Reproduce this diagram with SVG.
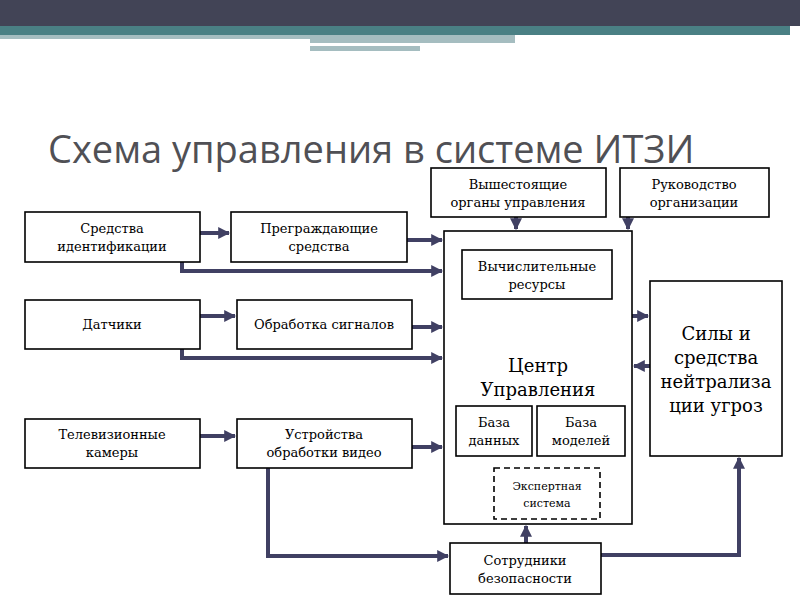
<svg xmlns="http://www.w3.org/2000/svg" width="800" height="600" viewBox="0 0 800 600">
<defs>
<style>
.b{fill:#fff;stroke:#000;stroke-width:1.6}
.d{fill:#fff;stroke:#000;stroke-width:1.6;stroke-dasharray:6 4}
.t{font-family:"DejaVu Serif","Liberation Serif",serif;font-size:13px;text-anchor:middle;fill:#000}
.L{font-size:18px}
.s{font-size:11px}
.c{fill:none;stroke:#404063;stroke-width:4}
</style>
<marker id="a" viewBox="0 0 10 10" refX="9" refY="5" markerWidth="3" markerHeight="3" orient="auto"><path d="M0,0L10,5L0,10z" fill="#404063"/></marker>
</defs>
<rect width="800" height="600" fill="#fff"/>
<rect x="0" y="0" width="800" height="26" fill="#424456"/>
<rect x="0" y="26" width="790" height="9" fill="#4a8084"/>
<rect x="0" y="35" width="310" height="4" fill="#a5bdc0"/>
<rect x="310" y="35" width="205" height="8" fill="#a5bdc0"/>
<rect x="310" y="43" width="175" height="2" fill="#fff"/>
<rect x="310" y="46" width="110" height="5" fill="#a5bdc0"/>
<text x="48" y="163" font-family="Open Sans,Liberation Sans,sans-serif" font-size="38" fill="#505055">Схема управления в системе ИТЗИ</text>
<g id="connectors">
<path class="c" d="M200,233H229" marker-end="url(#a)"/>
<path class="c" d="M407,240H442" marker-end="url(#a)"/>
<path class="c" d="M182,262V271H442" marker-end="url(#a)"/>
<path class="c" d="M200,316H235" marker-end="url(#a)"/>
<path class="c" d="M412,327H442" marker-end="url(#a)"/>
<path class="c" d="M182,349V358H442" marker-end="url(#a)"/>
<path class="c" d="M200,436H235" marker-end="url(#a)"/>
<path class="c" d="M412,447H442" marker-end="url(#a)"/>
<path class="c" d="M268,468V556H448" marker-end="url(#a)"/>
<path class="c" d="M516,217V229" marker-end="url(#a)"/>
<path class="c" d="M628,217V229" marker-end="url(#a)"/>
<path class="c" d="M632,316H648" marker-end="url(#a)"/>
<path class="c" d="M650,366H634" marker-end="url(#a)"/>
<path class="c" d="M526,543V526" marker-end="url(#a)"/>
<path class="c" d="M601,555H739V458" marker-end="url(#a)"/>
</g>
<g id="n1"><rect class="b" x="25" y="212" width="175" height="50"/><text class="t" x="112" y="233">Средства</text><text class="t" x="112" y="251">идентификации</text></g>
<g id="n2"><rect class="b" x="231" y="212" width="176" height="50"/><text class="t" x="319" y="233">Преграждающие</text><text class="t" x="319" y="251">средства</text></g>
<g id="n3"><rect class="b" x="25" y="300" width="175" height="49"/><text class="t" x="112" y="329">Датчики</text></g>
<g id="n4"><rect class="b" x="237" y="300" width="175" height="49"/><text class="t" x="324" y="329">Обработка сигналов</text></g>
<g id="n5"><rect class="b" x="25" y="419" width="175" height="49"/><text class="t" x="112" y="439">Телевизионные</text><text class="t" x="112" y="457">камеры</text></g>
<g id="n6"><rect class="b" x="237" y="419" width="175" height="49"/><text class="t" x="324" y="439">Устройства</text><text class="t" x="324" y="457">обработки видео</text></g>
<g id="n7"><rect class="b" x="431" y="168" width="175" height="49"/><text class="t" x="518" y="189">Вышестоящие</text><text class="t" x="518" y="207">органы управления</text></g>
<g id="n8"><rect class="b" x="620" y="168" width="149" height="49"/><text class="t" x="694" y="189">Руководство</text><text class="t" x="694" y="207">организации</text></g>
<g id="center"><rect class="b" x="444" y="231" width="188" height="293"/><text class="t L" x="538" y="372">Центр</text><text class="t L" x="538" y="396">Управления</text></g>
<g id="n9"><rect class="b" x="462" y="250" width="150" height="49"/><text class="t" x="537" y="271">Вычислительные</text><text class="t" x="537" y="289">ресурсы</text></g>
<g id="n10"><rect class="b" x="456" y="406" width="76" height="50"/><text class="t" x="494" y="427">База</text><text class="t" x="494" y="445">данных</text></g>
<g id="n11"><rect class="b" x="537" y="406" width="88" height="50"/><text class="t" x="581" y="427">База</text><text class="t" x="581" y="445">моделей</text></g>
<g id="n12"><rect class="d" x="494" y="468" width="106" height="51"/><text class="t s" x="547" y="490">Экспертная</text><text class="t s" x="547" y="507">система</text></g>
<g id="n13"><rect class="b" x="650" y="281" width="132" height="175"/><text class="t L" x="716" y="340">Силы и</text><text class="t L" x="716" y="364">средства</text><text class="t L" x="716" y="388">нейтрализа</text><text class="t L" x="716" y="412">ции угроз</text></g>
<g id="n14"><rect class="b" x="450" y="543" width="151" height="51"/><text class="t" x="525" y="565">Сотрудники</text><text class="t" x="525" y="583">безопасности</text></g>
</svg>
